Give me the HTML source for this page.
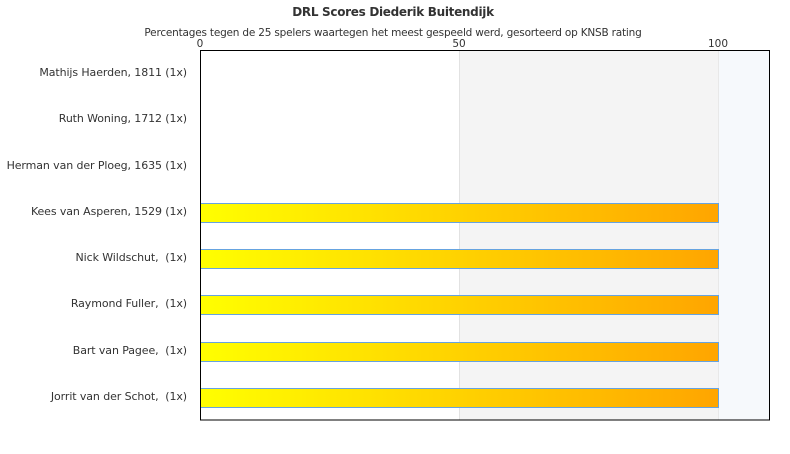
<!DOCTYPE html>
<html><head><meta charset="utf-8"><style>
body{margin:0;background:#fff;font-family:"DejaVu Sans","Liberation Sans",sans-serif;}
text{white-space:pre;}
</style></head><body>
<svg width="790" height="450" xmlns="http://www.w3.org/2000/svg" font-family="DejaVu Sans, Liberation Sans, sans-serif">
<defs><linearGradient id="g" x1="0" x2="1" y1="0" y2="0"><stop offset="0" stop-color="#ffff00"/><stop offset="1" stop-color="#ffa500"/></linearGradient></defs>
<text x="393" y="16" font-size="12" font-weight="bold" text-anchor="middle" fill="#333" letter-spacing="-0.3">DRL Scores Diederik Buitendijk</text>
<text x="393" y="36" font-size="10.5" text-anchor="middle" fill="#333" letter-spacing="-0.2">Percentages tegen de 25 spelers waartegen het meest gespeeld werd, gesorteerd op KNSB rating</text>
<text x="200" y="47" font-size="10.5" text-anchor="middle" fill="#333">0</text>
<text x="459" y="47" font-size="10.5" text-anchor="middle" fill="#333">50</text>
<text x="718" y="47" font-size="10.5" text-anchor="middle" fill="#333">100</text>
<rect x="459" y="50" width="259" height="370" fill="#f4f4f4"/>
<rect x="718" y="50" width="52" height="370" fill="#f6f9fc"/>
<line x1="459.5" y1="50" x2="459.5" y2="420" stroke="#e2e2e2"/>
<line x1="718.5" y1="50" x2="718.5" y2="420" stroke="#e8e8e8"/>
<g fill="url(#g)" stroke="#66a3e0" stroke-width="1">
<rect x="200.5" y="203.5" width="518" height="19"/>
<rect x="200.5" y="249.5" width="518" height="19"/>
<rect x="200.5" y="295.5" width="518" height="19"/>
<rect x="200.5" y="342.5" width="518" height="19"/>
<rect x="200.5" y="388.5" width="518" height="19"/>
</g>
<rect x="200.5" y="50.5" width="569" height="369.5" fill="none" stroke="#000"/>
<g font-size="11" text-anchor="end" fill="#333" letter-spacing="-0.1">
<text x="187" y="76">Mathijs Haerden, 1811 (1x)</text>
<text x="187" y="122">Ruth Woning, 1712 (1x)</text>
<text x="187" y="169">Herman van der Ploeg, 1635 (1x)</text>
<text x="187" y="215">Kees van Asperen, 1529 (1x)</text>
<text x="187" y="261">Nick Wildschut,  (1x)</text>
<text x="187" y="307">Raymond Fuller,  (1x)</text>
<text x="187" y="354">Bart van Pagee,  (1x)</text>
<text x="187" y="400">Jorrit van der Schot,  (1x)</text>
</g>
</svg>
</body></html>
